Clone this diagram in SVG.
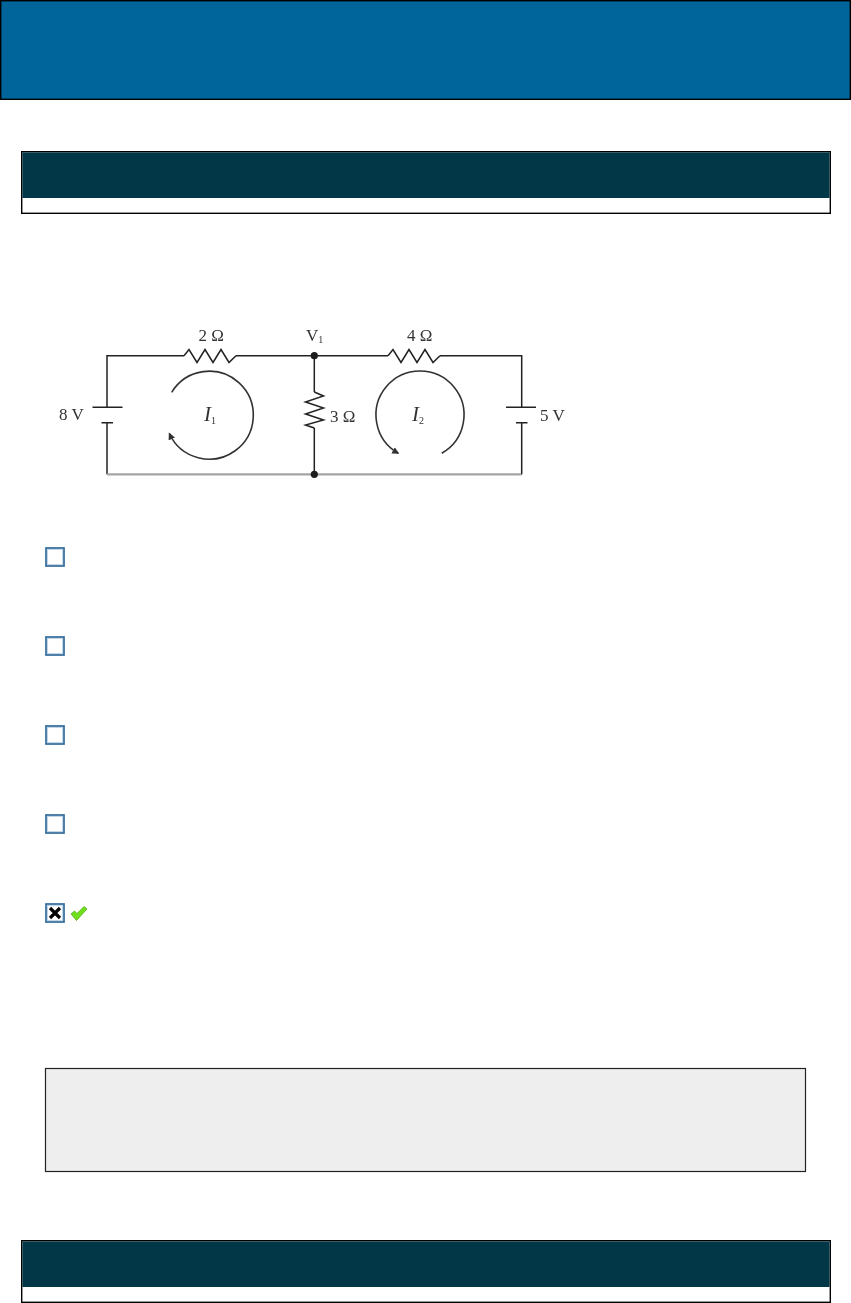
<svg xmlns="http://www.w3.org/2000/svg" width="851" height="1303" viewBox="0 0 851 1303">
<style>
.border{stroke:#000;stroke-width:1.4}
.head{fill:#00659b}
.bar{fill:#013747}
.wire{fill:none;stroke:#222;stroke-width:1.5}
.low{fill:none;stroke:#a4a4a4;stroke-width:2.2}
.loop{fill:none;stroke:#333;stroke-width:1.6}
.dot{fill:#1c1c1c}
text{font-family:"Liberation Serif","Times New Roman",serif;fill:#333}
.l{font-size:17px}
.i{font-size:21px;font-style:italic}
.s{font-size:10px;font-style:normal}
.cb{fill:#fff;stroke:#2f6a9c;stroke-width:1.7}
.cbi{fill:none;stroke:#c4d6e6;stroke-width:1}
</style>
<defs>
<filter id="soft" x="-5%" y="-5%" width="110%" height="110%"><feGaussianBlur stdDeviation="0.35"/></filter>
<g id="box"><rect class="cb" x="0" y="0" width="18" height="18"/><rect class="cbi" x="1.5" y="1.5" width="15" height="15"/></g>
<marker id="ah" markerWidth="8" markerHeight="8" refX="6" refY="4" orient="auto" markerUnits="userSpaceOnUse"><path d="M0 0.5L7 4L0 7.5z" fill="#333"/></marker>
</defs>
<rect width="851" height="1303" fill="#fff"/>
<g id="header"><rect class="head border" x="0.7" y="0.7" width="849.6" height="98.6"/></g>
<g id="section-top"><rect x="21.7" y="151.7" width="808.6" height="61.6" fill="#fff" class="border"/><rect class="bar" x="22.4" y="152.4" width="807.2" height="45.6"/></g>
<g id="connectors" filter="url(#soft)">
<path class="wire" d="M184 355.7H107V407.3M107 422.7V474.3"/>
<path class="low" d="M107 474.3H521.7"/>
<path class="wire" d="M236 355.7H388M440 355.7H521.7V407.3M521.7 422.7V474.3"/>
<path class="wire" d="M314.3 355.7V392M314.3 428V474.3"/>
<path class="loop" d="M171.7 392.3A44 44 0 1 1 169.3 433.5" marker-end="url(#ah)"/>
<path class="loop" d="M441.7 453.3A44 44 0 1 0 398.3 453.3" marker-end="url(#ah)"/>
</g>
<g id="r-2" filter="url(#soft)"><path class="wire" d="M184 355.7L189 349.5L197 362.5L205 349.5L213 362.5L221 349.5L229 362.5L236 355.7"/><text class="l" x="198.5" y="341">2 Ω</text></g>
<g id="r-4" filter="url(#soft)"><path class="wire" d="M388 355.7L393 349.5L401 362.5L409 349.5L417 362.5L425 349.5L433 362.5L440 355.7"/><text class="l" x="407" y="341">4 Ω</text></g>
<g id="r-3" filter="url(#soft)"><path class="wire" d="M314.3 392L323.5 396L305.5 402L323.5 408L305.5 414L323.5 420L305.5 425L314.3 428"/><text class="l" x="330" y="422">3 Ω</text></g>
<g id="b-8" filter="url(#soft)"><path class="wire" d="M92.5 407.3H122.5M101.5 422.7H113"/><text class="l" x="59" y="420">8 V</text></g>
<g id="b-5" filter="url(#soft)"><path class="wire" d="M506 407.3H536M516 422.7H527.5"/><text class="l" x="540" y="421">5 V</text></g>
<g id="n-v1" filter="url(#soft)"><circle class="dot" cx="314.3" cy="355.7" r="3.6"/><text class="l" x="306" y="341">V<tspan class="s" dy="2">1</tspan></text></g>
<g id="n-bottom" filter="url(#soft)"><circle class="dot" cx="314.3" cy="474.3" r="3.6"/></g>
<g id="i-1" filter="url(#soft)"><text class="i" x="204" y="421">I<tspan class="s" dy="3">1</tspan></text></g>
<g id="i-2" filter="url(#soft)"><text class="i" x="412" y="421">I<tspan class="s" dy="3">2</tspan></text></g>
<g id="choice-1"><use href="#box" x="46" y="548"/></g>
<g id="choice-2"><use href="#box" x="46" y="637"/></g>
<g id="choice-3"><use href="#box" x="46" y="726"/></g>
<g id="choice-4"><use href="#box" x="46" y="815"/></g>
<g id="choice-5"><use href="#box" x="46" y="904"/><path d="M50 908L60 918M60 908L50 918" stroke="#000" stroke-width="3.2" fill="none"/>
<path d="M71 914L74.5 911L77 913.5L84 906.5L87 909L76.5 920.5z" fill="#6fe01c" stroke="#4aa012" stroke-width="0.7"/></g>
<g id="note"><rect x="45.5" y="1068.5" width="760" height="103" fill="#eee" stroke="#222" stroke-width="1.2"/></g>
<g id="section-bottom"><rect x="21.7" y="1240.7" width="808.6" height="61.6" fill="#fff" class="border"/><rect class="bar" x="22.4" y="1241.4" width="807.2" height="45.6"/></g>
</svg>
